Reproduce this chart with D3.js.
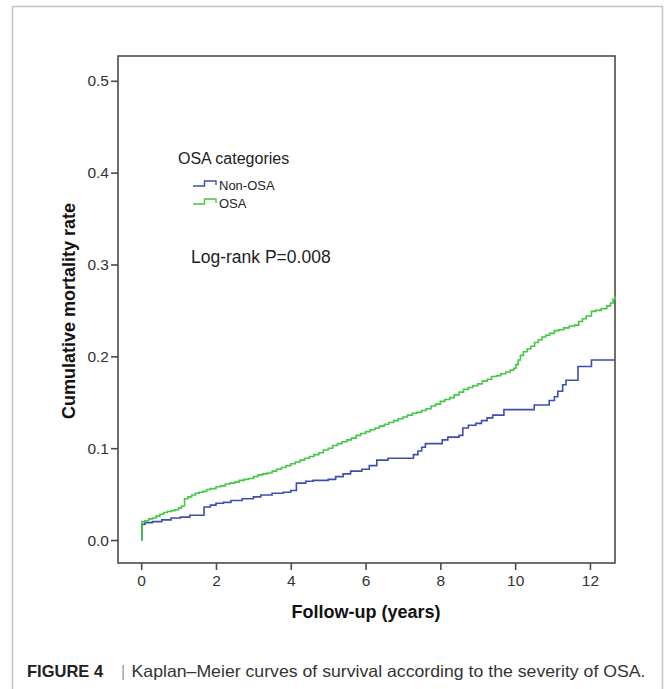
<!DOCTYPE html>
<html>
<head>
<meta charset="utf-8">
<script src="https://cdn.jsdelivr.net/npm/d3@7"></script>
<style>
  body { margin: 0; background: #fff; }
  text { font-family: "Liberation Sans", Arial, sans-serif; }
</style>
</head>
<body>
<div id="chart"></div>
<script>
// data (years, cumulative mortality)
var osaTime = [0, 0.02, 0.1, 0.2, 0.3, 0.4, 0.5, 0.6, 0.7, 0.8, 0.9, 1.0, 1.08, 1.16, 1.25, 1.35, 1.45, 1.55, 1.65,
  1.75, 1.85, 2.0, 2.12, 2.25, 2.37, 2.5, 2.62, 2.75, 2.87, 3.0, 3.12, 3.25, 3.37, 3.5, 3.62, 3.75, 3.87,
  4.0, 4.12, 4.25, 4.37, 4.5, 4.62, 4.75, 4.87, 5.0, 5.12, 5.25, 5.37, 5.5, 5.62, 5.75, 5.87,
  6.0, 6.12, 6.25, 6.37, 6.5, 6.62, 6.75, 6.87, 7.0, 7.12, 7.25, 7.37, 7.5, 7.62, 7.75, 7.87,
  8.0, 8.12, 8.25, 8.37, 8.5, 8.62, 8.75, 8.87, 9.0, 9.12, 9.25, 9.37, 9.5, 9.62, 9.75, 9.87,
  9.96, 10.02, 10.08, 10.14, 10.22, 10.32, 10.42, 10.52, 10.62, 10.72, 10.82, 10.92, 11.05, 11.17,
  11.3, 11.45, 11.59, 11.7, 11.8, 11.9, 12.04, 12.15, 12.3, 12.45, 12.55, 12.62, 12.67]
var osaRate = [0, 0.020, 0.021, 0.023, 0.024, 0.026, 0.028, 0.030, 0.031, 0.032, 0.033, 0.035, 0.037, 0.045, 0.047, 0.049, 0.051, 0.052, 0.053,
  0.055, 0.056, 0.058, 0.059, 0.061, 0.062, 0.063, 0.065, 0.066, 0.067, 0.069, 0.071, 0.072, 0.073, 0.075, 0.077, 0.079, 0.081,
  0.083, 0.085, 0.087, 0.089, 0.091, 0.093, 0.095, 0.098, 0.100, 0.103, 0.105, 0.107, 0.109, 0.111, 0.114, 0.116,
  0.118, 0.120, 0.122, 0.124, 0.126, 0.128, 0.130, 0.132, 0.134, 0.136, 0.138, 0.139, 0.141, 0.143, 0.146, 0.148,
  0.151, 0.153, 0.155, 0.158, 0.161, 0.164, 0.166, 0.168, 0.170, 0.173, 0.175, 0.178, 0.179, 0.181, 0.183, 0.185,
  0.187, 0.191, 0.196, 0.201, 0.205, 0.208, 0.211, 0.215, 0.218, 0.221, 0.223, 0.225, 0.228, 0.229,
  0.231, 0.233, 0.234, 0.238, 0.241, 0.244, 0.249, 0.250, 0.252, 0.255, 0.258, 0.262, 0.266]

var nonTime = [0, 0.02, 0.1, 0.3, 0.55, 0.8, 1.05, 1.3, 1.68, 1.85, 2.0, 2.2, 2.4, 2.7, 3.0, 3.2, 3.5,
  3.8, 4.0, 4.15, 4.4, 4.6, 5.0, 5.2, 5.4, 5.6, 5.9, 6.1, 6.3, 6.6, 7.28, 7.4, 7.5, 7.6, 8.05,
  8.2, 8.5, 8.6, 8.75, 8.95, 9.1, 9.25, 9.4, 9.7, 10.51, 10.91, 11.05, 11.14, 11.27, 11.36, 11.68, 12.04, 12.67]
var nonRate = [0, 0.017, 0.019, 0.020, 0.022, 0.024, 0.025, 0.027, 0.036, 0.038, 0.040, 0.041, 0.043, 0.045, 0.047, 0.049, 0.051,
  0.052, 0.054, 0.062, 0.064, 0.065, 0.066, 0.069, 0.072, 0.075, 0.077, 0.081, 0.087, 0.089, 0.093, 0.097, 0.101, 0.105, 0.109,
  0.112, 0.114, 0.122, 0.125, 0.127, 0.130, 0.133, 0.136, 0.142, 0.147, 0.152, 0.156, 0.162, 0.169, 0.174, 0.189, 0.196, 0.196]

var yTicks = [0, 0.1, 0.2, 0.3, 0.4, 0.5]
var xTicks = [0, 2, 4, 6, 8, 10, 12]
var groups = ["Non-OSA", "OSA"]
var colors = ["#3b4fb3", "#42c842"]

var W = 665, H = 689
var svg = d3.select("#chart").append("svg")
    .attr("width", W)
    .attr("height", H)

// outer light frame
svg.append("path")
    .attr("d", "M12.5,689V6.5H662.5V689")
    .attr("fill", "none")
    .attr("stroke", "#c4c4c4")
    .attr("stroke-width", 1.5)

var x = d3.scaleLinear().domain([-0.62, 12.67]).range([118, 615])
var y = d3.scaleLinear().domain([-0.025, 0.527]).range([563, 56])

// plot box
svg.append("rect")
    .attr("x", 118).attr("y", 56)
    .attr("width", 497).attr("height", 507)
    .attr("fill", "none")
    .attr("stroke", "#4a4a4a")
    .attr("stroke-width", 1.6)

// axes
var yAxis = svg.append("g")
    .attr("transform", "translate(118,0)")
    .call(d3.axisLeft(y).tickValues(yTicks).tickFormat(d3.format(".1f")).tickSize(7).tickPadding(2))
var xAxis = svg.append("g")
    .attr("transform", "translate(0,563)")
    .call(d3.axisBottom(x).tickValues(xTicks).tickSize(7).tickPadding(5))
;[yAxis, xAxis].forEach(function(g) {
  g.select(".domain").remove()
  g.selectAll(".tick line").attr("stroke", "#4a4a4a").attr("stroke-width", 1.6)
  g.selectAll(".tick text").attr("fill", "#333").style("font-size", "15.5px")
      .style("font-family", "'Liberation Sans', Arial, sans-serif")
})

// axis titles
svg.append("text")
    .attr("transform", "translate(75,311) rotate(-90)")
    .attr("text-anchor", "middle")
    .style("font-size", "18px").style("font-weight", "bold")
    .attr("fill", "#111")
    .text("Cumulative mortality rate")
svg.append("text")
    .attr("x", 366).attr("y", 618)
    .attr("text-anchor", "middle")
    .style("font-size", "18px").style("font-weight", "bold")
    .attr("fill", "#111")
    .text("Follow-up (years)")

// curves
var line = d3.line()
    .curve(d3.curveStepAfter)
    .x(function(d) { return x(d[0]) })
    .y(function(d) { return y(d[1]) })

var series = [
  { name: groups[0], pts: d3.zip(nonTime, nonRate), color: colors[0] },
  { name: groups[1], pts: d3.zip(osaTime, osaRate), color: colors[1] }
]
svg.selectAll(".km")
  .data(series)
  .enter().append("path")
    .attr("class", "km")
    .attr("d", function(d) { return line(d.pts) })
    .attr("fill", "none")
    .attr("stroke", function(d) { return d.color })
    .attr("stroke-width", 1.6)

// legend
svg.append("text")
    .attr("x", 178).attr("y", 164)
    .style("font-size", "16px")
    .attr("fill", "#222")
    .text("OSA categories")

var leg = svg.selectAll(".leg")
  .data(series)
  .enter().append("g")
    .attr("class", "leg")
    .attr("transform", function(d, i) { return "translate(193," + (186 + i * 18) + ")" })
leg.append("path")
    .attr("d", "M0,0H11.5V-5H23V-1")
    .attr("fill", "none")
    .attr("stroke", function(d) { return d.color })
    .attr("stroke-width", 1.4)
leg.append("text")
    .attr("x", 26).attr("y", 4)
    .style("font-size", "13px")
    .attr("fill", "#222")
    .text(function(d) { return d.name })

svg.append("text")
    .attr("x", 191).attr("y", 263)
    .style("font-size", "17.5px")
    .attr("fill", "#222")
    .text("Log-rank P=0.008")

// caption
svg.append("text")
    .attr("x", 27).attr("y", 677)
    .style("font-size", "16.5px").style("font-weight", "bold")
    .attr("fill", "#222")
    .text("FIGURE 4")
svg.append("text")
    .attr("x", 121).attr("y", 677)
    .style("font-size", "16px")
    .attr("fill", "#999")
    .text("|")
svg.append("text")
    .attr("x", 131.5).attr("y", 677)
    .attr("textLength", 514)
    .attr("lengthAdjust", "spacingAndGlyphs")
    .style("font-size", "16.5px")
    .attr("fill", "#333")
    .text("Kaplan\u2013Meier curves of survival according to the severity of OSA.")
</script>
</body>
</html>
